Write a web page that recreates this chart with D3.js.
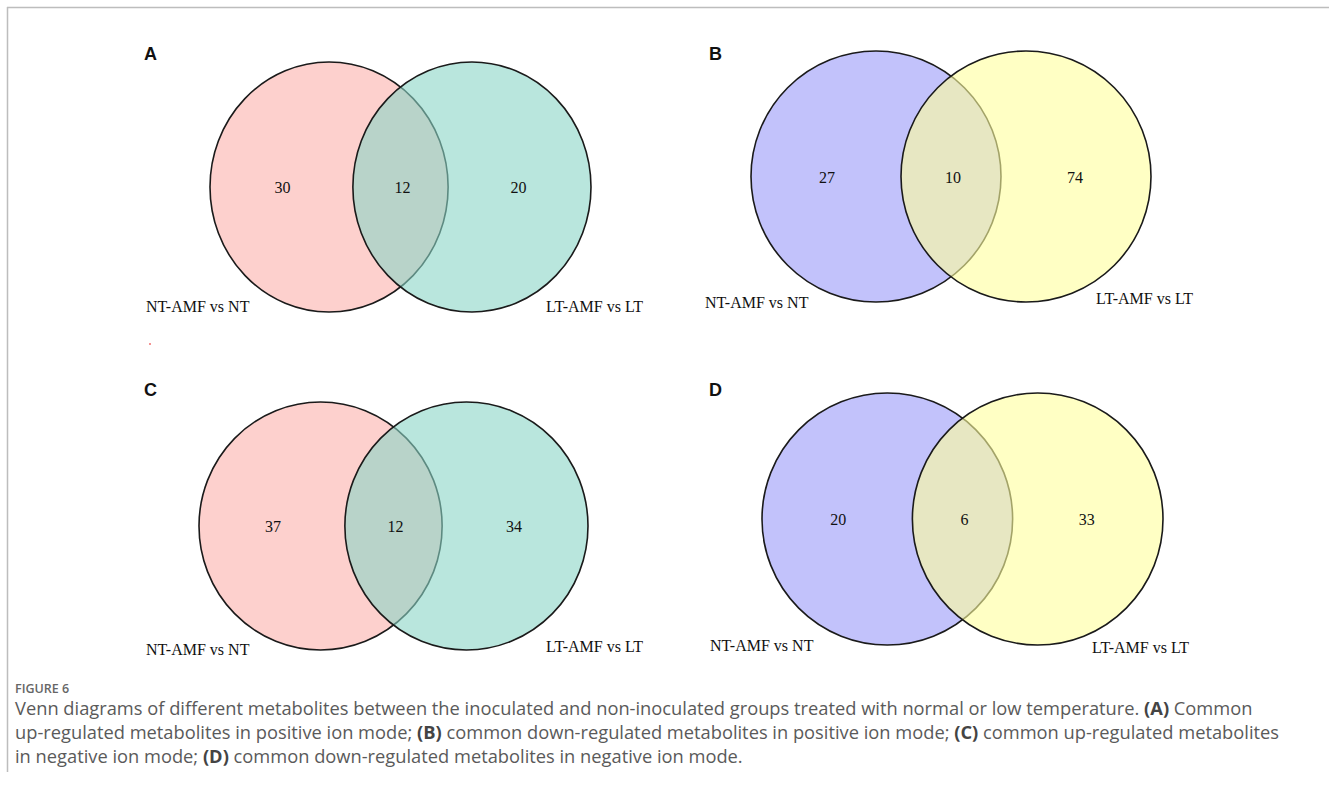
<!DOCTYPE html>
<html>
<head>
<meta charset="utf-8">
<script src="https://cdn.jsdelivr.net/npm/d3@7"></script>
<style>
  body { margin: 0; background: #fff; }
  svg { display: block; }
</style>
</head>
<body>
<svg id="fig"></svg>
<script>
// data
var panels = ["A", "B", "C", "D"]
var leftOnly = [30, 27, 37, 20]
var shared = [12, 10, 12, 6]
var rightOnly = [20, 74, 34, 33]
var setNames = ["NT-AMF vs NT", "LT-AMF vs LT"]
var leftColors = ["#fdd0cd", "#c2c2fb", "#fdd0cd", "#c2c2fb"]
var rightColors = ["#8ad5c6", "#ffff9d", "#8ad5c6", "#ffff9d"]

var captionHead = "FIGURE 6"
var captionLines = [
  [["Venn diagrams of different metabolites between the inoculated and non-inoculated groups treated with normal or low temperature. ", false], ["(A)", true], [" Common", false]],
  [["up-regulated metabolites in positive ion mode; ", false], ["(B)", true], [" common down-regulated metabolites in positive ion mode; ", false], ["(C)", true], [" common up-regulated metabolites", false]],
  [["in negative ion mode; ", false], ["(D)", true], [" common down-regulated metabolites in negative ion mode.", false]]
]

// layout: bounding box of each diagram (union of the two ellipses)
var boxes = [
  { x0: 210, x1: 591, y0: 62, y1: 312, w: 0.625, tag: [144, 53], lab: [[146, 306], [643, 306]] },
  { x0: 751, x1: 1151, y0: 51, y1: 302, w: 0.625, tag: [709, 53], lab: [[705, 302], [1193, 298]] },
  { x0: 199, x1: 588, y0: 402, y1: 650, w: 0.625, tag: [144, 389], lab: [[146, 649], [643, 646]] },
  { x0: 762, x1: 1163, y0: 393, y1: 645, w: 0.625, tag: [709, 389], lab: [[710, 645], [1189, 647]] }
]
var numPos = [0.19, 0.505, 0.81]

var width = 1329,
  height = 796

var svg = d3.select("#fig")
  .attr("width", width)
  .attr("height", height)

// frame lines
svg.append("line")
  .attr("x1", 7).attr("x2", width).attr("y1", 7.5).attr("y2", 7.5)
  .style("stroke", "#bdbdbd").style("stroke-width", 1.5)
svg.append("line")
  .attr("x1", 7.5).attr("x2", 7.5).attr("y1", 7).attr("y2", 772)
  .style("stroke", "#bdbdbd").style("stroke-width", 1.5)

/*
 * Venn panels
 */

panels.forEach(function (p, i) {
  var b = boxes[i]
  var x = d3.scaleLinear().domain([0, 1]).range([b.x0, b.x1])
  var y = d3.scaleLinear().domain([0, 1]).range([b.y0, b.y1])
  var g = svg.append("g").attr("class", "panel")

  var sets = [
    { lo: 0, hi: b.w, color: leftColors[i], op: 1 },
    { lo: 1 - b.w, hi: 1, color: rightColors[i], op: 0.6 }
  ]

  g.selectAll("ellipse")
    .data(sets)
    .enter()
    .append("ellipse")
    .attr("cx", function (d) { return x((d.lo + d.hi) / 2) })
    .attr("cy", y(0.5))
    .attr("rx", function (d) { return x(d.hi) - x((d.lo + d.hi) / 2) })
    .attr("ry", y(1) - y(0.5))
    .style("fill", function (d) { return d.color })
    .style("fill-opacity", function (d) { return d.op })
    .style("stroke", "#1a1a1a")
    .style("stroke-width", 1.6)

  // counts
  g.selectAll("text.count")
    .data([leftOnly[i], shared[i], rightOnly[i]])
    .enter()
    .append("text")
    .attr("class", "count")
    .attr("x", function (d, k) { return x(numPos[k]) })
    .attr("y", y(0.5) + 6)
    .attr("text-anchor", "middle")
    .style("font-family", "'Liberation Serif', 'Times New Roman', serif")
    .style("font-size", "16px")
    .style("fill", "#111")
    .text(function (d) { return d })

  // set names
  g.selectAll("text.setname")
    .data(setNames)
    .enter()
    .append("text")
    .attr("class", "setname")
    .attr("x", function (d, k) { return b.lab[k][0] })
    .attr("y", function (d, k) { return b.lab[k][1] + 6 })
    .attr("text-anchor", function (d, k) { return k === 0 ? "start" : "end" })
    .style("font-family", "'Liberation Serif', 'Times New Roman', serif")
    .style("font-size", "16px")
    .style("fill", "#111")
    .text(function (d) { return d })

  // panel letter
  g.append("text")
    .attr("x", b.tag[0])
    .attr("y", b.tag[1] + 7)
    .style("font-family", "'Liberation Sans', Arial, sans-serif")
    .style("font-weight", "bold")
    .style("font-size", "18px")
    .style("fill", "#111")
    .text(p)
})

// small red speck under panel A
svg.append("circle")
  .attr("cx", 150).attr("cy", 344).attr("r", 1)
  .style("fill", "#f07070")

/*
 * Caption
 */

svg.append("text")
  .attr("x", 15)
  .attr("y", 693)
  .style("font-family", "'Open Sans', sans-serif")
  .style("font-size", "12.5px")
  .style("font-weight", 600)
  .style("fill", "#666")
  .text(captionHead)

svg.selectAll("text.cap")
  .data(captionLines)
  .enter()
  .append("text")
  .attr("class", "cap")
  .attr("x", 15)
  .attr("y", function (d, k) { return 715 + k * 24 })
  .style("font-family", "'Open Sans', sans-serif")
  .style("font-size", "18.3px")
  .style("fill", "#5a5a5a")
  .selectAll("tspan")
  .data(function (d) { return d })
  .enter()
  .append("tspan")
  .style("font-weight", function (d) { return d[1] ? 700 : 400 })
  .style("fill", function (d) { return d[1] ? "#444" : "#5a5a5a" })
  .text(function (d) { return d[0] })
</script>
</body>
</html>
